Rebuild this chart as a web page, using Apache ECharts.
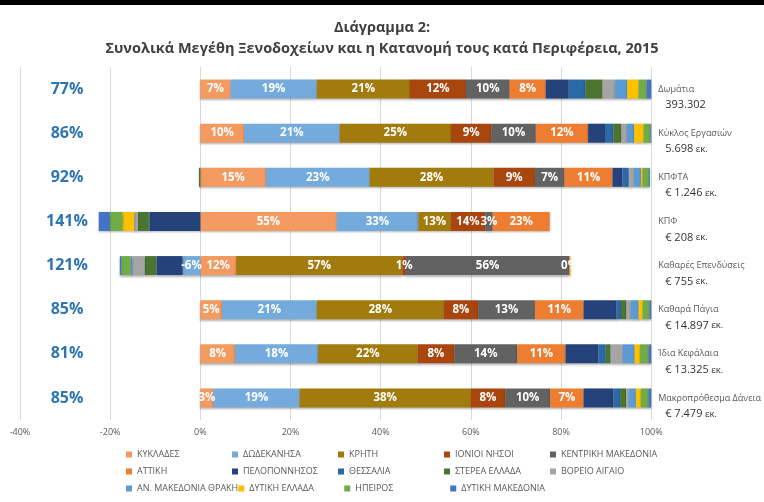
<!DOCTYPE html>
<html><head><meta charset="utf-8">
<script src="https://cdn.jsdelivr.net/npm/echarts@6/dist/echarts.min.js"></script>
<style>html,body{margin:0;padding:0;background:#fff}#c{width:764px;height:502px}</style>
</head><body><div id="c"></div>
<script>
const categories = ['Δωμάτια','Κύκλος Εργασιών','ΚΠΦΤΑ','ΚΠΦ','Καθαρές Επενδύσεις','Καθαρά Πάγια','Ίδια Κεφάλαια','Μακροπρόθεσμα Δάνεια'];
const totalNumbers = ['393.302','5.698','€ 1.246','€ 208','€ 755','€ 14.897','€ 13.325','€ 7.479'];
const totalUnits = ['',' εκ.',' εκ.',' εκ.',' εκ.',' εκ.',' εκ.',' εκ.'];
const xTicks = [-40, -20, 0, 20, 40, 60, 80, 100];
const regions = ['ΚΥΚΛΑΔΕΣ','ΔΩΔΕΚΑΝΗΣΑ','ΚΡΗΤΗ','ΙΟΝΙΟΙ ΝΗΣΟΙ','ΚΕΝΤΡΙΚΗ ΜΑΚΕΔΟΝΙΑ','ΑΤΤΙΚΗ','ΠΕΛΟΠΟΝΝΗΣΟΣ','ΘΕΣΣΑΛΙΑ','ΣΤΕΡΕΑ ΕΛΛΑΔΑ','ΒΟΡΕΙΟ ΑΙΓΑΙΟ','ΑΝ. ΜΑΚΕΔΟΝΙΑ ΘΡΑΚΗ','ΔΥΤΙΚΗ ΕΛΛΑΔΑ','ΗΠΕΙΡΟΣ','ΔΥΤΙΚΗ ΜΑΚΕΔΟΝΙΑ'];
// share (%) of each region in each total
const kyklades     = [6.7, 9.7, 14.6, 55, 12.3, 4.8, 7.7, 2.9];
const dodekanisa   = [19.1, 21.2, 23.1, 33, -6.1, 21.0, 18.4, 19.1];
const kriti        = [20.7, 24.7, 27.6, 13, 57.2, 28.2, 22.1, 38.0];
const ionioi       = [12.4, 8.9, 9.2, 14, 1.2, 7.6, 8.1, 7.6];
const kentrikiMak  = [9.7, 9.9, 6.6, 3, 56.2, 12.6, 14.0, 10.0];
const attiki       = [8.0, 11.6, 10.7, 23, 0.2, 10.8, 10.7, 7.4];
const peloponnisos = [5.1, 3.9, 2.2, -20.5, -8.9, 7.3, 7.3, 6.6];
const thessalia    = [3.7, 1.7, 1.4, -0.3, -0.2, 1.0, 1.6, 1.5];
const sterea       = [3.8, 1.8, -0.3, -4.4, -4.0, 1.2, 1.1, 1.3];
const voreioAigaio = [2.8, 1.2, 1.1, -1.2, -4.2, 1.0, 2.7, 0.6];
const anMakThraki  = [2.7, 1.6, 1.6, -0.3, -0.6, 1.7, 2.6, 1.6];
const dytikiEllada = [2.5, 2.1, 0.4, -4.7, 0.3, 0.9, 1.2, 1.1];
const ipeiros      = [1.8, 1.5, 1.4, -5.1, -3.2, 1.5, 1.9, 1.7];
const dytikiMak    = [1.0, 0.2, 0.2, -4.5, -0.5, 0.4, 0.6, 0.6];

const seriesData = [kyklades, dodekanisa, kriti, ionioi, kentrikiMak, attiki, peloponnisos, thessalia, sterea, voreioAigaio, anMakThraki, dytikiEllada, ipeiros, dytikiMak];
const colors = ['#F39A60','#74AADC','#A17B0D','#A8460E','#626262','#ED7D31','#25437A','#2B69A8','#4B7430','#A5A5A5','#5B9BD5','#FFC000','#70AD47','#4472C4'];
const FONT = 'Open Sans';

// 100% stacked (like Excel): each value divided by the sum of absolute values of its row
const absSums = categories.map((c, i) => seriesData.reduce((a, s) => a + Math.abs(s[i]), 0));
const norm = seriesData.map(s => s.map((v, i) => v / absSums[i] * 100));
const leftTotals = categories.map((c, i) => Math.round(seriesData.slice(0, 6).reduce((a, s) => a + s[i], 0)) + '%');

const series = seriesData.map((arr, s) => ({
  name: regions[s], type: 'bar', stack: 'total', barWidth: 19,
  itemStyle: { color: colors[s], shadowColor: 'rgba(0,0,0,0.3)', shadowBlur: 2, shadowOffsetY: 1.5 },
  label: s < 6 ? {
    show: true, position: 'inside', color: '#ffffff', fontWeight: 'bold', fontSize: 11.5, fontFamily: FONT,
    formatter: p => Math.round(arr[p.dataIndex]) + '%'
  } : { show: false },
  emphasis: { disabled: true },
  data: norm[s]
}));

const chart = echarts.init(document.getElementById('c'), null, { renderer: 'canvas' });
chart.setOption({
  animation: false,
  backgroundColor: '#ffffff',
  textStyle: { fontFamily: FONT },
  title: [
    { text: 'Διάγραμμα 2:', left: 'center', top: 15, textStyle: { fontSize: 14.5, fontWeight: 'bold', color: '#404040', fontFamily: FONT } },
    { text: 'Συνολικά Μεγέθη Ξενοδοχείων και η Κατανομή τους κατά Περιφέρεια, 2015', left: 'center', top: 36, textStyle: { fontSize: 14.5, fontWeight: 'bold', color: '#404040', fontFamily: FONT } }
  ],
  graphic: [{ type: 'rect', left: 0, top: 0, shape: { width: 764, height: 5 }, style: { fill: '#000' } }],
  grid: { left: 20, right: 110, top: 67, bottom: 82, containLabel: false },
  xAxis: {
    type: 'value', min: xTicks[0], max: xTicks[xTicks.length - 1], interval: 20,
    axisLine: { show: false }, axisTick: { show: false },
    axisLabel: { formatter: '{value}%', color: '#595959', fontSize: 9, margin: 8, fontFamily: FONT },
    splitLine: { lineStyle: { color: '#D9D9D9', width: 1 } }
  },
  yAxis: [
    {
      type: 'category', data: categories, inverse: true, position: 'left',
      axisLine: { show: false }, axisTick: { show: false },
      axisLabel: { inside: true, margin: 47, align: 'center', interval: 0, color: '#2E75B6', fontSize: 16, fontWeight: 'bold', fontFamily: FONT,
        formatter: (v, i) => leftTotals[i] }
    },
    {
      type: 'category', data: categories, inverse: true, position: 'right',
      axisLine: { show: false }, axisTick: { show: false },
      axisLabel: {
        margin: 7, interval: 0, align: 'left',
        formatter: (v, i) => '{e| }\n{a|' + v + '}\n{b|' + totalNumbers[i] + '}' + (totalUnits[i] ? '{u|' + totalUnits[i] + '}' : ''),
        rich: {
          e: { lineHeight: 16, fontSize: 9 },
          a: { lineHeight: 16, fontSize: 9, color: '#595959', fontFamily: FONT },
          b: { lineHeight: 16, fontSize: 11, color: '#333333', fontFamily: FONT, padding: [0, 0, 0, 7] },
          u: { lineHeight: 16, fontSize: 9.5, color: '#333333', fontFamily: FONT }
        }
      }
    }
  ],
  legend: {
    data: regions, left: 121, top: 441, width: 540, orient: 'horizontal',
    itemWidth: 6, itemHeight: 6, itemGap: 0, icon: 'rect', selectedMode: false,
    textStyle: { fontSize: 9, color: '#595959', width: 95, lineHeight: 17, overflow: 'none', fontFamily: FONT }
  },
  series: series
});
</script>
</body></html>
